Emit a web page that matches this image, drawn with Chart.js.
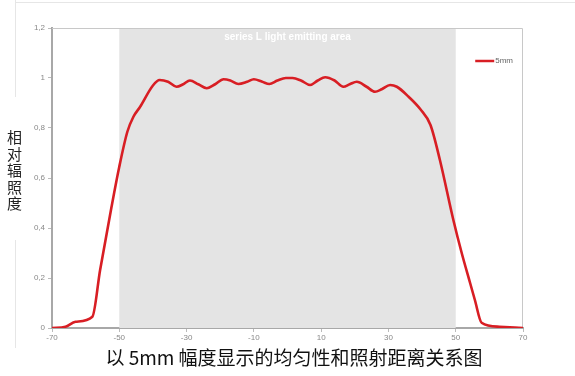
<!DOCTYPE html>
<html>
<head>
<meta charset="utf-8">
<script src="https://cdn.jsdelivr.net/npm/chart.js@4/dist/chart.umd.min.js"></script>
<style>
  html, body { margin: 0; padding: 0; background: #fff; }
  body { width: 575px; height: 376px; position: relative; overflow: hidden; font-family: "Noto Sans CJK SC", "Noto Sans", sans-serif; }
  #wrap { position: absolute; left: 0; top: 0; width: 575px; height: 376px; }
  .frame-h { position: absolute; left: 15px; top: 2px; width: 560px; height: 1px; background: #e6e6e6; }
  .frame-v1 { position: absolute; left: 15px; top: 0; width: 1px; height: 97px; background: #e6e6e6; }
  .frame-v2 { position: absolute; left: 15px; top: 240px; width: 1px; height: 108px; background: #e6e6e6; }
  #ytitle { position: absolute; left: 6px; top: 129px; width: 17px; font-size: 15px; line-height: 16.5px; color: #222; text-align: center; }
  #caption { position: absolute; left: 0; top: 345px; width: 588px; text-align: center; font-size: 19px; line-height: 24px; color: #111; }
</style>
</head>
<body>
<div class="frame-h"></div>
<div class="frame-v1"></div>
<div class="frame-v2"></div>
<div id="wrap"><canvas id="c" width="575" height="376"></canvas></div>
<div id="ytitle">相<br>对<br>辐<br>照<br>度</div>
<div id="caption">以 5mm 幅度显示的均匀性和照射距离关系图</div>
<script>
// Irradiance profile measured across the 5mm series
const positions = [-70, -66, -63, -58, -55.7, -52.3, -50, -47.6, -45.8, -43.8, -40, -38, -35.5, -33, -31, -29, -26.5, -24, -21.5, -19, -17, -14.6, -12, -10, -7.5, -5.4, -3, -0.5, 1.5, 4, 6.7, 9, 11.2, 14, 16.6, 18.5, 20.6, 23.5, 26, 28, 30.5, 32.5, 36, 39.5, 42.5, 45.3, 49.3, 51.8, 54.3, 55.7, 57.7, 63, 70];
const irradiance = [0, 0.005, 0.025, 0.045, 0.232, 0.485, 0.645, 0.785, 0.845, 0.885, 0.97, 0.992, 0.985, 0.965, 0.975, 0.99, 0.975, 0.959, 0.975, 0.995, 0.99, 0.976, 0.985, 0.995, 0.985, 0.976, 0.99, 1.0, 1.0, 0.99, 0.972, 0.99, 1.003, 0.99, 0.965, 0.975, 0.985, 0.965, 0.945, 0.955, 0.972, 0.965, 0.925, 0.875, 0.812, 0.672, 0.432, 0.299, 0.179, 0.112, 0.021, 0.005, 0];
const seriesLabel = '5mm';

// Light emitting area of the series
const emitStart = -50;
const emitEnd = 50;
const emitLabel = 'series L light emitting area';

const xTicks = [-70, -50, -30, -10, 10, 30, 50, 70];
const yTicks = [0, 0.2, 0.4, 0.6, 0.8, 1, 1.2];

const points = positions.map((x, i) => ({ x: x, y: irradiance[i] }));

const emitAreaPlugin = {
  id: 'emitArea',
  beforeDatasetsDraw(chart) {
    const { ctx, chartArea, scales } = chart;
    const x0 = scales.x.getPixelForValue(emitStart);
    const x1 = scales.x.getPixelForValue(emitEnd);
    ctx.save();
    ctx.fillStyle = '#e4e4e4';
    ctx.fillRect(x0, chartArea.top, x1 - x0, chartArea.bottom - chartArea.top);
    // plot frame, top and right
    ctx.strokeStyle = '#c8c8c8';
    ctx.lineWidth = 1;
    ctx.beginPath();
    ctx.moveTo(chartArea.left, chartArea.top + 0.5);
    ctx.lineTo(chartArea.right - 0.5, chartArea.top + 0.5);
    ctx.lineTo(chartArea.right - 0.5, chartArea.bottom);
    ctx.stroke();
    ctx.fillStyle = '#ffffff';
    ctx.font = 'bold 10px "Liberation Sans", Arial, sans-serif';
    ctx.textAlign = 'center';
    ctx.textBaseline = 'middle';
    ctx.fillText(emitLabel, (x0 + x1) / 2, chartArea.top + 9);
    ctx.restore();
  }
};

const lineLegendPlugin = {
  id: 'lineLegend',
  afterDatasetsDraw(chart) {
    const { ctx, chartArea } = chart;
    const ds = chart.data.datasets[0];
    const y = chartArea.top + 33;
    const xEnd = chartArea.right - 10;
    ctx.save();
    ctx.font = '8px "Liberation Sans", Arial, sans-serif';
    ctx.textBaseline = 'middle';
    ctx.textAlign = 'right';
    ctx.fillStyle = '#666';
    ctx.fillText(ds.label, xEnd, y);
    const tw = ctx.measureText(ds.label).width;
    ctx.strokeStyle = ds.borderColor;
    ctx.lineWidth = 2.5;
    ctx.beginPath();
    ctx.moveTo(xEnd - tw - 20, y);
    ctx.lineTo(xEnd - tw - 1, y);
    ctx.stroke();
    ctx.restore();
  }
};

new Chart(document.getElementById('c'), {
  type: 'line',
  data: {
    datasets: [{
      label: seriesLabel,
      data: points,
      borderColor: '#d81e24',
      borderWidth: 2.6,
      pointRadius: 0,
      cubicInterpolationMode: 'monotone',
      fill: false
    }]
  },
  options: {
    responsive: false,
    animation: false,
    layout: { padding: { left: 0, top: 28, right: 52, bottom: 0 } },
    plugins: {
      legend: { display: false },
      tooltip: { enabled: false }
    },
    scales: {
      x: {
        type: 'linear',
        min: -70,
        max: 70,
        afterBuildTicks(scale) { scale.ticks = xTicks.map(v => ({ value: v })); },
        afterFit(scale) { scale.height = 48; },
        ticks: {
          color: '#888',
          font: { size: 8, family: '"Liberation Sans", Arial, sans-serif' },
          padding: 1,
          maxRotation: 0,
          autoSkip: false
        },
        grid: { drawOnChartArea: false, drawTicks: true, tickLength: 4, color: '#bbb' },
        border: { color: '#a8a8a8', width: 2 }
      },
      y: {
        min: 0,
        max: 1.2,
        afterBuildTicks(scale) { scale.ticks = yTicks.map(v => ({ value: v })); },
        afterFit(scale) { scale.width = 52; },
        ticks: {
          color: '#888',
          font: { size: 8, family: '"Liberation Sans", Arial, sans-serif' },
          padding: 3,
          callback: v => String(Math.round(v * 10) / 10).replace('.', ',')
        },
        grid: { drawOnChartArea: false, drawTicks: true, tickLength: 4, color: '#bbb' },
        border: { color: '#a8a8a8', width: 2 }
      }
    }
  },
  plugins: [emitAreaPlugin, lineLegendPlugin]
});
</script>
</body>
</html>
